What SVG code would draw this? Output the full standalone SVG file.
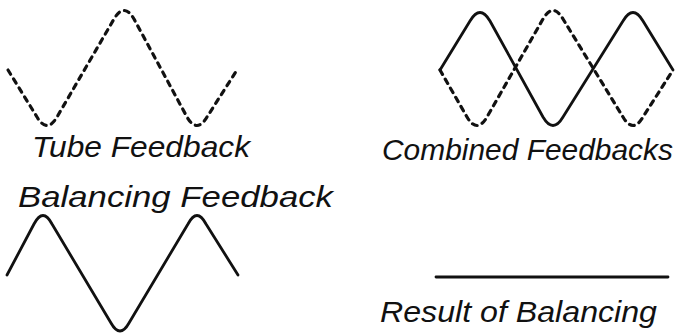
<svg xmlns="http://www.w3.org/2000/svg" width="677" height="336" viewBox="0 0 677 336">
<style>
.w{fill:none;stroke:#111;stroke-width:2.8;stroke-linecap:round;stroke-linejoin:round}
.d{stroke-width:3.2;stroke-dasharray:5 5.5}
.t{font-family:"Liberation Sans",Arial,sans-serif;font-style:italic;font-size:29px;fill:#111}
</style>
<rect width="677" height="336" fill="#fff"/>
<g id="tube-feedback">
<path class="w d" d="M8,70 L37,117 Q47,134 57,117 L114,19 Q124,2 134,19 L187,117 Q197,134 207,117 L237,70"/>
<text class="t" x="32" y="157" textLength="218" lengthAdjust="spacingAndGlyphs">Tube Feedback</text>
</g>
<g id="combined-feedbacks">
<path class="w" d="M440,70 L470,21 Q480,4 490,21 L543,117 Q553,134 563,117 L623,21 Q633,4 643,21 L673,70"/>
<path class="w d" d="M440,70 L467,117 Q477,134 487,117 L543,19 Q553,2 563,19 L623,117 Q633,134 643,117 L673,70"/>
<text class="t" x="382" y="160" textLength="291" lengthAdjust="spacingAndGlyphs">Combined Feedbacks</text>
</g>
<g id="balancing-feedback">
<text class="t" x="18" y="207" textLength="315" lengthAdjust="spacingAndGlyphs">Balancing Feedback</text>
<path class="w" d="M7,275 L34,224 Q43,207 52,224 L111,323 Q120,339 129,323 L188,224 Q197,207 206,224 L238,275"/>
</g>
<g id="result-of-balancing">
<line class="w" x1="436" y1="277" x2="668" y2="277"/>
<text class="t" x="380" y="322" textLength="277" lengthAdjust="spacingAndGlyphs">Result of Balancing</text>
</g>
</svg>
